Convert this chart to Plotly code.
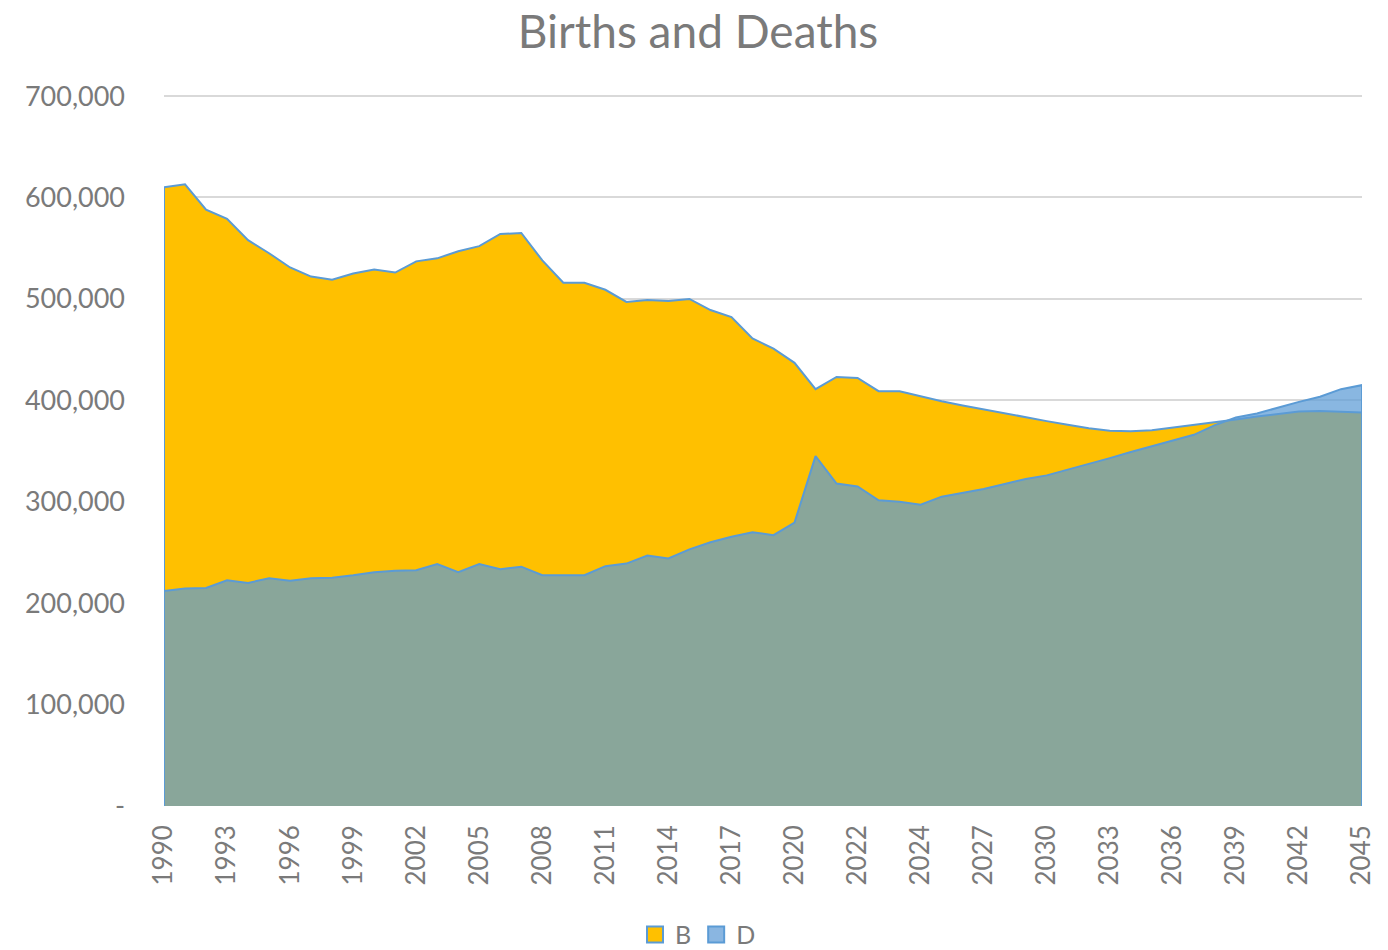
import plotly.graph_objects as go

# Category labels (58 points; some years repeat in the source data)
years = [str(y) for y in range(1990, 2021)] + \
        ["2021", "2021", "2022", "2022", "2023"] + \
        [str(y) for y in range(2024, 2046)]

births = [610000, 613000, 588000, 579000, 558000, 545000, 531000, 522000, 519000, 525000,
          529000, 526000, 537000, 540000, 547000, 552000, 564000, 565000, 538000, 516000,
          516000, 509000, 497000, 499000, 498000, 500000, 489000, 482000, 461000, 451000,
          437000, 411000, 423000, 422000, 409000, 409000, 404000, 399000, 395000, 391000,
          387000, 383000, 379500, 376000, 372500, 370000, 369500, 370500, 373000, 376000,
          378500, 381000, 384000, 386500, 389000, 389500, 389000, 388000]

deaths = [212000, 214500, 215000, 222500, 220000, 224500, 222000, 224500, 225000, 227500,
          230500, 232000, 232500, 238500, 230500, 238500, 233500, 236000, 227500, 227500,
          227500, 236500, 239000, 247000, 244000, 253000, 260000, 265500, 270000, 267000,
          279500, 345000, 318000, 315000, 301500, 300000, 297000, 305000, 308500, 312500,
          317500, 322500, 326000, 331500, 337000, 343000, 349000, 354500, 360000, 366000,
          375500, 383000, 387000, 393000, 398500, 403500, 411000, 415000]

y_ticks = [0, 100000, 200000, 300000, 400000, 500000, 600000, 700000]
y_tick_text = ["-", "100,000", "200,000", "300,000", "400,000", "500,000", "600,000", "700,000"]

series_names = ["B", "D"]
BLUE = "#5B9BD5"
YELLOW = "#FFC000"
D_FILL = "rgba(91,155,213,0.72)"
TEXT = "#7a7a7a"
FONT = "Lato, 'Open Sans', sans-serif"

idx = list(range(len(years)))


def closed(xs, ys):
    # close the area down to the baseline so the outline is drawn on all sides
    return [xs[0]] + xs + [xs[-1]], [0] + ys + [0]


fig = go.Figure()
bx, by = closed(idx, births)
fig.add_trace(go.Scatter(x=bx, y=by, fill="toself", fillcolor=YELLOW, mode="lines",
                         line=dict(color=BLUE, width=2), showlegend=False, hoverinfo="skip"))
dx, dy = closed(idx, deaths)
fig.add_trace(go.Scatter(x=dx, y=dy, fill="toself", fillcolor=D_FILL, mode="lines",
                         line=dict(color=BLUE, width=2), showlegend=False, hoverinfo="skip"))

# legend entries (square swatches)
for name, col in zip(series_names, [YELLOW, "#8AB6E1"]):
    fig.add_trace(go.Scatter(x=[None], y=[None], mode="markers", name=name,
                             marker=dict(symbol="square", size=16, color=col,
                                         line=dict(color=BLUE, width=2))))

# page body has an 8px margin, so the figure is sized to fit the 1388x950 window
fig.update_layout(
    width=1380, height=942,
    paper_bgcolor="white", plot_bgcolor="white",
    margin=dict(l=156, r=26, t=83, b=144, autoexpand=False),
    title=dict(text="Births and Deaths", x=0.5, xanchor="center", y=0.9745, yanchor="middle",
               font=dict(family=FONT, size=46, color=TEXT)),
    font=dict(family=FONT, color=TEXT),
    showlegend=True,
    legend=dict(orientation="h", xref="container", x=0.5, xanchor="center",
                y=-0.180, yanchor="middle",
                font=dict(size=25, color=TEXT), itemwidth=30, traceorder="normal"),
    xaxis=dict(range=[0, len(years) - 1], tickmode="array", tickvals=idx[::3],
               ticktext=years[::3], tickangle=-90, showgrid=False, zeroline=False,
               showline=False, ticks="", tickfont=dict(size=26, color=TEXT),
               ticklabelstandoff=13, automargin=False),
    yaxis=dict(range=[0, 705000], tickmode="array", tickvals=y_ticks, ticktext=y_tick_text,
               showgrid=True, gridcolor="#D9D9D9", gridwidth=1.5, zeroline=False,
               showline=False, ticks="", tickfont=dict(size=27, color=TEXT),
               ticklabelstandoff=38, automargin=False),
)

fig.write_html("out.html")
